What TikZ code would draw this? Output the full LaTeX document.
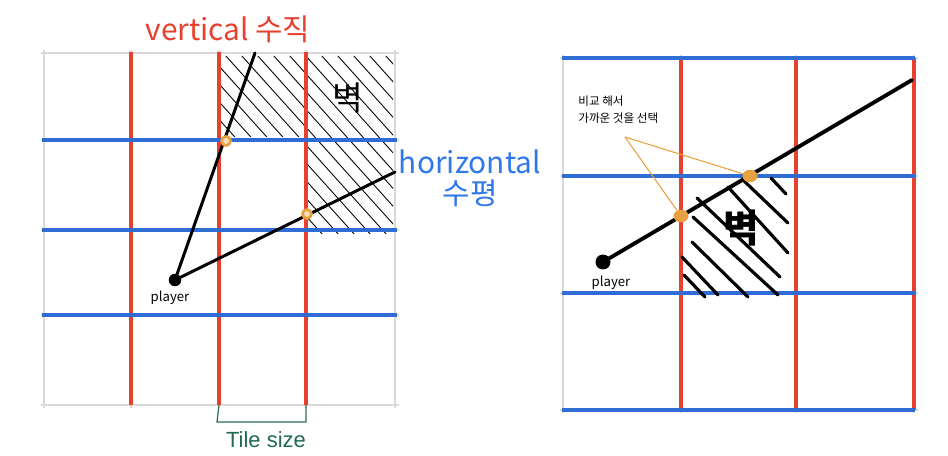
\documentclass[tikz,border=0pt]{standalone}
\usepackage{fontspec}
\setmainfont{Noto Sans CJK KR}
\newfontfamily\tilefont{Liberation Sans}
\usetikzlibrary{positioning, shapes.geometric}
\definecolor{gridgray}{HTML}{D9D9D9}
\definecolor{vertred}{HTML}{E8402F}
\definecolor{horizblue}{HTML}{2F6CD4}
\definecolor{labelblue}{HTML}{2F78EA}
\definecolor{hitorange}{HTML}{E8A13F}
\definecolor{tilegreen}{HTML}{1E6B50}

\begin{document}
\begin{tikzpicture}[
    x=0.02cm, y=-0.02cm,
    gridline/.style={draw=gridgray, line width=0.7pt},
    vline/.style={draw=vertred, line width=2.2pt},
    hline/.style={draw=horizblue, line width=2.2pt},
    ray/.style={draw=black, line width=1.7pt, line cap=round},
    thinhatch/.style={draw=black, line width=0.5pt, line cap=round},
    thickhatch/.style={draw=black, line width=1.8pt, line cap=round},
    playerdot/.style={circle, fill=black, inner sep=0pt, minimum size=0.25cm},
    playertxt/.style={inner sep=0pt, font=\fontsize{7.5}{9}\selectfont},
    hitring/.style={circle, draw=hitorange, fill=hitorange!35, line width=1.5pt, inner sep=0pt, minimum size=0.18cm},
    hitdot/.style={ellipse, fill=hitorange, inner sep=0pt, minimum width=0.3cm, minimum height=0.25cm},
    leader/.style={draw=hitorange, line width=0.6pt},
    walltxt/.style={inner sep=0pt, text=black},
    vlabel/.style={inner sep=0pt, text=vertred, font=\fontsize{17}{20}\selectfont},
    hlabel/.style={inner sep=0pt, text=labelblue, font=\fontsize{17}{20}\selectfont},
    notetxt/.style={inner sep=0pt, align=left, font=\fontsize{6.6}{9.6}\selectfont},
    bracket/.style={draw=tilegreen!80!gray, line width=0.7pt},
    tilelabel/.style={inner sep=0pt, text=tilegreen, font=\tilefont\fontsize{12.5}{14}\selectfont}
]
    \useasboundingbox (0,0) rectangle (948,456);

    % left grid
    \foreach \gx in {44,131,219,306,395}
        \draw[gridline] (\gx,50) -- (\gx,408);
    \foreach \gy in {53,140,230,315,405}
        \draw[gridline] (41,\gy) -- (399,\gy);

    % wall hatching (left)
    \begin{scope}
        \clip (221,56) -- (393,56) -- (393,234) -- (308,234) -- (308,137) -- (221,137) -- cycle;
        \foreach \s in {120,136,...,420}
            \draw[thinhatch] (\s,45) -- ++(180,200);
    \end{scope}

    \foreach \gx in {131,219,306}
        \draw[vline] (\gx,52) -- (\gx,405);
    \foreach \gy in {140,230,315}
        \draw[hline] (42,\gy) -- (397,\gy);

    \node[vlabel] (vertlbl) at (228,29) {vertical 수직};
    \node[hlabel] (horizlbl) at (470,162) {horizontal};
    \node[hlabel] (horizko) at (470,193) {수평};
    \node[walltxt, font=\fontsize{19}{20}\selectfont] (wallL) at (348,98) {벽};

    % rays (left)
    \node[playerdot] (playerL) at (175,280) {};
    \node[playertxt] (playerLtxt) at (170,298) {player};
    \coordinate (rayLa) at (255,53);
    \coordinate (rayLb) at (395,172);
    \draw[ray] (playerL.center) -- (rayLa);
    \draw[ray] (playerL.center) -- (rayLb);
    \node[hitring] (hitLa) at (226,141) {};
    \node[hitring] (hitLb) at (307,214) {};

    % tile size
    \coordinate (tileA) at (219,405);
    \coordinate (tileB) at (306,405);
    \draw[bracket] (tileA) -- ++(-2,17) -| (tileB);
    \node[tilelabel] (tilelbl) at (266,440) {Tile size};

    % right grid
    \foreach \gx in {563,681,796,914}
        \draw[gridline] (\gx,55) -- (\gx,413);
    \foreach \gy in {58,176,293,410}
        \draw[gridline] (560,\gy) -- (918,\gy);
    \foreach \gx in {681,796,914}
        \draw[vline] (\gx,58) -- (\gx,410);
    \foreach \gy in {58,176,293,410}
        \draw[hline] (562,\gy) -- (915,\gy);

    % wall hatching (right)
    \foreach \a/\b/\c/\d in {682/257/718/295, 684/275/705/297, 692/242/748/297,
                             693/217/778/295, 697/198/780/277, 728/187/788/253,
                             743/180/788/223, 771/178/786/194}
        \draw[thickhatch] (\a,\b) -- (\c,\d);
    \node[walltxt, font=\bfseries\fontsize{22}{24}\selectfont] (wallR) at (741,228) {벽};

    % ray (right)
    \node[playerdot, minimum size=0.3cm] (playerR) at (603,262) {};
    \node[playertxt] (playerRtxt) at (611,283) {player};
    \coordinate (rayR) at (912,80);
    \draw[ray, line width=2.2pt] (playerR.center) -- (rayR);
    \node[hitdot] (hitRa) at (681,216) {};
    \node[hitdot] (hitRb) at (750,176) {};

    \node[notetxt, anchor=north west] (note) at (578,96) {비교 해서\\가까운 것을 선택};
    \coordinate (noteTip) at (625,137);
    \draw[leader] (noteTip) -- (hitRb);
    \draw[leader] (noteTip) -- (hitRa);
\end{tikzpicture}
\end{document}
